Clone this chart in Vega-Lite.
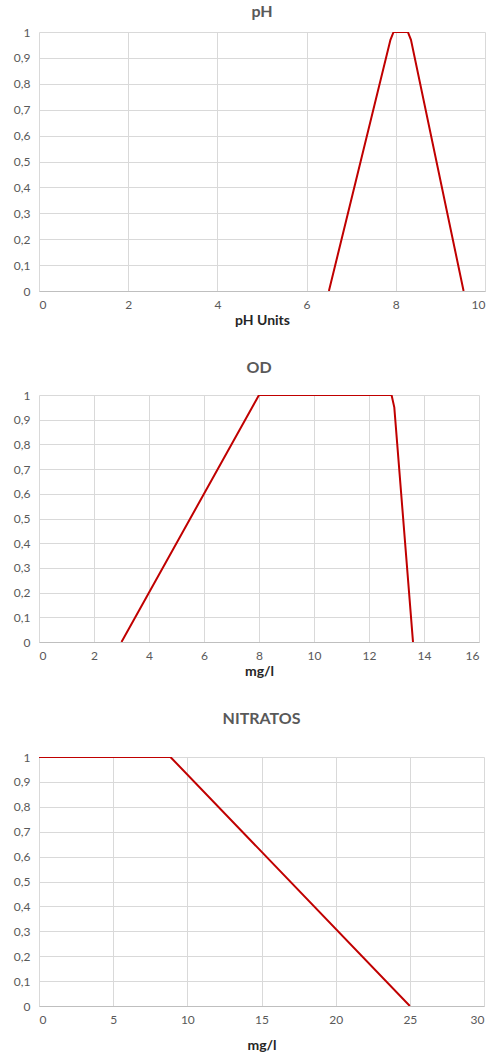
{
  "$schema": "https://vega.github.io/schema/vega-lite/v6.json",
  "background": "white",
  "padding": {"top": 4, "left": 13, "right": 5, "bottom": 2},
  "spacing": 33,
  "config": {
    "font": "Lato",
    "view": {"stroke": null},
    "title": {"fontSize": 16, "fontWeight": "bold", "color": "#595959", "font": "Lato"},
    "axis": {
      "labelFont": "Lato", "labelFontSize": 12, "labelColor": "#595959",
      "gridColor": "#d9d9d9", "gridWidth": 1, "ticks": false,
      "titleFont": "Lato", "titleFontSize": 14, "titleFontWeight": "bold", "titleColor": "#262626"
    },
    "axisX": {"domainColor": "#bfbfbf", "labelPadding": 8},
    "axisY": {"domain": false, "labelPadding": 9}
  },
  "datasets": {
    "ph": [
      {"x": 6.5, "y": 0}, {"x": 7.88, "y": 0.97}, {"x": 7.95, "y": 1}, {"x": 8.27, "y": 1}, {"x": 8.34, "y": 0.97}, {"x": 9.52, "y": 0}
    ],
    "od": [
      {"x": 3.0, "y": 0}, {"x": 7.9, "y": 0.98}, {"x": 8.0, "y": 1}, {"x": 12.82, "y": 1}, {"x": 12.92, "y": 0.95}, {"x": 13.6, "y": 0}
    ],
    "nit": [
      {"x": 0, "y": 1}, {"x": 8.86, "y": 1}, {"x": 25, "y": 0}
    ]
  },
  "vconcat": [
    {
      "title": {"text": "pH", "offset": 6},
      "width": 446, "height": 259,
      "data": {"name": "ph"},
      "mark": {"type": "line", "color": "#c00000", "strokeWidth": 2, "clip": true},
      "encoding": {
        "x": {"field": "x", "type": "quantitative", "scale": {"domain": [0, 10]},
              "axis": {"title": "pH Units", "values": [0, 2, 4, 6, 8, 10], "titlePadding": 3}},
        "y": {"field": "y", "type": "quantitative", "scale": {"domain": [0, 1]},
              "axis": {"title": null, "values": [0, 0.1, 0.2, 0.3, 0.4, 0.5, 0.6, 0.7, 0.8, 0.9, 1],
                       "labelExpr": "replace(format(datum.value, '.1~f'), '.', ',')"}}
      }
    },
    {
      "title": {"text": "OD", "offset": 13},
      "width": 440, "height": 247,
      "data": {"name": "od"},
      "mark": {"type": "line", "color": "#c00000", "strokeWidth": 2, "clip": true},
      "encoding": {
        "x": {"field": "x", "type": "quantitative", "scale": {"domain": [0, 16]},
              "axis": {"title": "mg/l", "values": [0, 2, 4, 6, 8, 10, 12, 14, 16], "titlePadding": 3}},
        "y": {"field": "y", "type": "quantitative", "scale": {"domain": [0, 1]},
              "axis": {"title": null, "values": [0, 0.1, 0.2, 0.3, 0.4, 0.5, 0.6, 0.7, 0.8, 0.9, 1],
                       "labelExpr": "replace(format(datum.value, '.1~f'), '.', ',')"}}
      }
    },
    {
      "title": {"text": "NITRATOS", "offset": 24},
      "width": 445, "height": 249,
      "data": {"name": "nit"},
      "mark": {"type": "line", "color": "#c00000", "strokeWidth": 2, "clip": true},
      "encoding": {
        "x": {"field": "x", "type": "quantitative", "scale": {"domain": [0, 30]},
              "axis": {"title": "mg/l", "values": [0, 5, 10, 15, 20, 25, 30], "titlePadding": 13}},
        "y": {"field": "y", "type": "quantitative", "scale": {"domain": [0, 1]},
              "axis": {"title": null, "values": [0, 0.1, 0.2, 0.3, 0.4, 0.5, 0.6, 0.7, 0.8, 0.9, 1],
                       "labelExpr": "replace(format(datum.value, '.1~f'), '.', ',')"}}
      }
    }
  ]
}
